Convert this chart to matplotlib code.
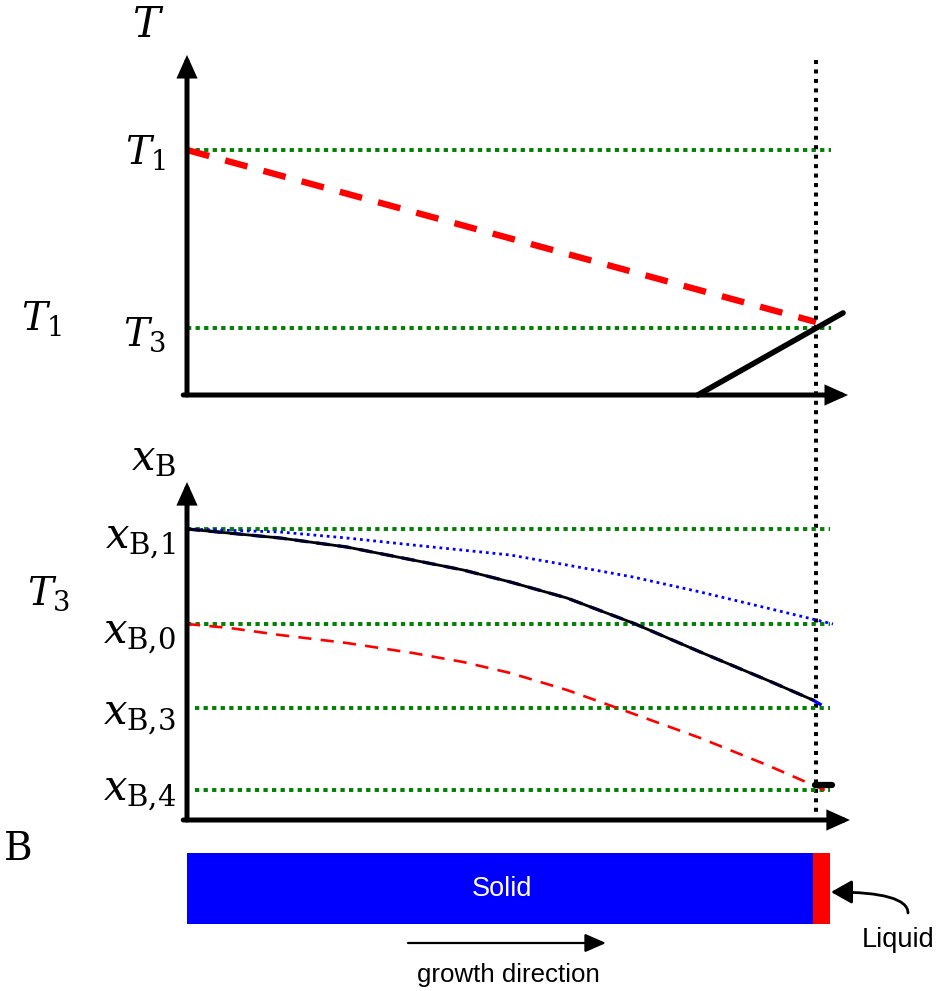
import matplotlib
matplotlib.use("Agg")
import matplotlib.pyplot as plt

plt.rcParams['mathtext.fontset'] = 'dejavuserif'

# ---------------- data (schematic units) ----------------
# Top panel: temperature vs position (interface at position 1.0)
T_levels = [1.0, 0.273]                 # T1, T3
T_level_labels = [r'$T_1$', r'$T_3$']
T_grad_pos = [0.0, 1.0]                 # red dashed temperature profile
T_grad_val = [1.0, 0.298]
T_liq_pos = [0.812, 1.043]              # black solid line
T_liq_val = [0.0, 0.335]

# Bottom panel: composition vs position
xB_levels = [2.91, 1.96, 1.12, 0.30]    # xB,1  xB,0  xB,3  xB,4
xB_level_labels = [r'$x_{\mathrm{B{,}1}}$', r'$x_{\mathrm{B{,}0}}$',
                   r'$x_{\mathrm{B{,}3}}$', r'$x_{\mathrm{B{,}4}}$']

blue_dot_pos = [0.0, 0.148, 0.254, 0.359, 0.514, 0.604, 0.709, 0.816, 0.922, 1.027]
blue_dot_val = [2.91, 2.88, 2.82, 2.75, 2.65, 2.55, 2.43, 2.28, 2.12, 1.96]

black_pos = [0.0, 0.148, 0.254, 0.359, 0.439, 0.514, 0.604, 0.709, 0.816, 0.922, 0.995]
black_val = [2.91, 2.82, 2.73, 2.60, 2.50, 2.38, 2.22, 1.97, 1.68, 1.40, 1.20]

blue_dash_pos = black_pos + [1.014]
blue_dash_val = black_val + [1.13]

red_pos = [0.0, 0.068, 0.148, 0.254, 0.359, 0.439, 0.514, 0.604, 0.693, 0.816, 0.922, 0.995, 1.014]
red_val = [1.96, 1.92, 1.85, 1.77, 1.67, 1.58, 1.47, 1.30, 1.10, 0.82, 0.55, 0.35, 0.30]

liquid_step_pos = [0.998, 1.026]
liquid_step_val = [0.35, 0.35]

# Bar: solid / liquid extent (position units)
bar_segments = [0.995, 0.027]           # solid length, liquid length
bar_colors = ['#0000ff', '#ff0000']

# ---------------- layout ----------------
W, H = 941, 991
X0, XS = 187, 629          # pixel of position 0, pixels per position unit
fig = plt.figure(figsize=(W / 100, H / 100), dpi=100)

def fx(px):
    return px / W

def fy(py):
    return 1 - py / H

xlim = (-X0 / XS, (W - X0) / XS)

axT = fig.add_axes([0, 0, 1, 1])
axT.set_xlim(*xlim)
axT.set_ylim((395 - H) / 245, 395 / 245)
axT.axis('off')

axB = fig.add_axes([0, 0, 1, 1])
axB.set_xlim(*xlim)
axB.set_ylim((820 - H) / 100, 820 / 100)
axB.axis('off')
axB.patch.set_alpha(0)

green = '#008000'
arrow_kw = dict(arrowstyle='-|>,head_length=0.6,head_width=0.27', lw=3.6,
                color='black', shrinkA=0, shrinkB=0, mutation_scale=18,
                joinstyle='miter')
dot_green = dict(color=green, lw=2.8, linestyle=(0, (1.1, 1.1)))

# ---- top panel ----
for lv in T_levels:
    axT.plot([0, 1.024], [lv, lv], **dot_green)
axT.plot(T_grad_pos, T_grad_val, color='#ff0000', lw=4.6,
         linestyle=(0, (3.6, 2.6)), dash_capstyle='butt')
axT.plot(T_liq_pos, T_liq_val, color='black', lw=4.0, solid_capstyle='round')
axT.annotate('', xy=(0, 1.388), xytext=(0, 0), arrowprops=arrow_kw,
             annotation_clip=False)
axT.annotate('', xy=(1.051, 0), xytext=(-0.006, 0), arrowprops=arrow_kw,
             annotation_clip=False)
# vertical interface line spanning both panels
axT.plot([1.0, 1.0], [(395 - 60) / 245, (395 - 815) / 245], color='black',
         lw=2.9, linestyle=(0, (1.0, 1.35)), clip_on=False)

# ---- bottom panel ----
for i, lv in enumerate(xB_levels):
    start = 0.0 if i < 2 else 0.012
    axB.plot([start, 1.022], [lv, lv], **dot_green)
axB.plot(blue_dot_pos, blue_dot_val, color='#0000ff', lw=2.0,
         linestyle=(0, (1, 1.4)))
axB.plot(blue_dash_pos, blue_dash_val, color='#0000ff', lw=2.4,
         linestyle=(0, (4, 2.5)))
axB.plot(black_pos, black_val, color='black', lw=2.0)
axB.plot(red_pos, red_val, color='#ff0000', lw=1.9, linestyle=(0, (5, 3.5)))
axB.plot(liquid_step_pos, liquid_step_val, color='black', lw=4.5,
         solid_capstyle='round')
axB.annotate('', xy=(0, 3.38), xytext=(0, 0), arrowprops=arrow_kw,
             annotation_clip=False)
axB.annotate('', xy=(1.054, 0), xytext=(-0.006, 0), arrowprops=arrow_kw,
             annotation_clip=False)

# bar
left = 0.0
for seg, col in zip(bar_segments, bar_colors):
    axB.barh(-0.685, seg, left=left, height=0.71, color=col, edgecolor='none')
    left += seg

# ---------------- labels ----------------
msz = 28
xsz = 30
fig.text(fx(148), fy(25), r'$T$', fontsize=msz + 2, ha='center', va='center')
T_label_y = [152, 335]
for lab, y in zip(T_level_labels, T_label_y):
    fig.text(fx(166), fy(y), lab, fontsize=msz, ha='right', va='center')
fig.text(fx(42), fy(319), r'$T_1$', fontsize=msz, ha='center', va='center')

fig.text(fx(154), fy(458), r'$x_{\mathrm{B}}$', fontsize=xsz, ha='center', va='center')
xB_label_y = [541, 636, 717, 793]
for lab, y in zip(xB_level_labels, xB_label_y):
    fig.text(fx(176), fy(y), lab, fontsize=xsz, ha='right', va='center')
fig.text(fx(49), fy(594), r'$T_3$', fontsize=msz, ha='center', va='center')
fig.text(fx(18), fy(850), 'B', fontsize=msz, family='DejaVu Serif',
         ha='center', va='center')

sans = 'Liberation Sans'
fig.text(fx(502), fy(889), 'Solid', fontsize=19.5, family=sans, color='white',
         ha='center', va='center')
fig.text(fx(898), fy(940), 'Liquid', fontsize=19.5, family=sans,
         ha='center', va='center')
fig.text(fx(508), fy(975), 'growth direction', fontsize=18.6, family=sans,
         ha='center', va='center')

# Liquid pointer arrow (curved)
axB.annotate('', xy=(fx(831), fy(892)), xytext=(fx(908), fy(913)),
             xycoords='figure fraction', textcoords='figure fraction',
             arrowprops=dict(arrowstyle='-|>,head_length=0.8,head_width=0.45',
                             lw=2.0, color='black', shrinkA=0, shrinkB=0,
                             mutation_scale=16,
                             connectionstyle='angle3,angleA=90,angleB=0'),
             annotation_clip=False)
# growth direction arrow
axB.annotate('', xy=(fx(606), fy(943)), xytext=(fx(408), fy(943)),
             xycoords='figure fraction', textcoords='figure fraction',
             arrowprops=dict(arrowstyle='-|>,head_length=0.8,head_width=0.35',
                             lw=1.6, color='black', shrinkA=0, shrinkB=0,
                             mutation_scale=16),
             annotation_clip=False)

fig.savefig('out.png', dpi=100)
